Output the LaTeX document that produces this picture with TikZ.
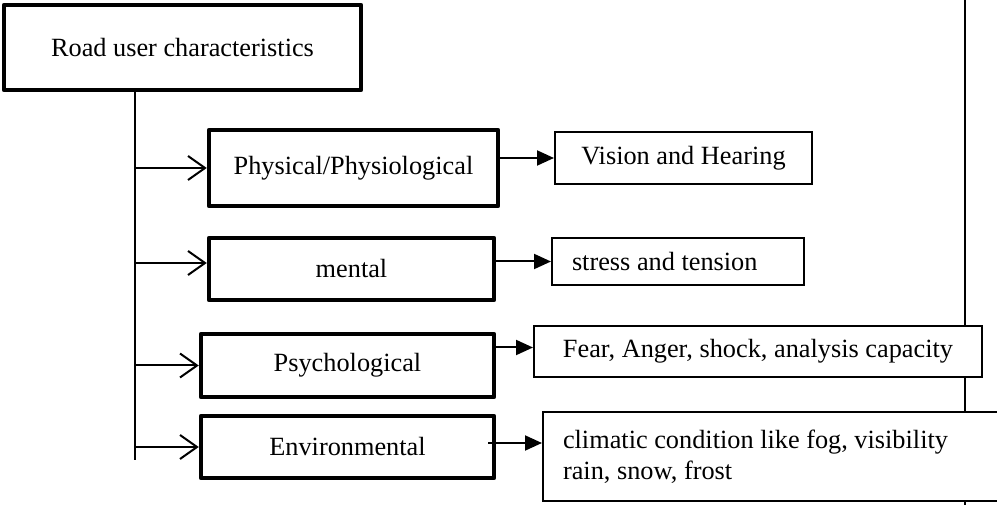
\documentclass[tikz,border=0pt]{standalone}
\usepackage{fontspec}
\setmainfont{Liberation Serif}
\usetikzlibrary{arrows.meta,positioning}
\tikzset{
	every node/.style={
		font=\fontsize{26.3}{31}\selectfont
	},
	heavybox/.style={
		draw,
		line width=4.5pt,
		line join=round,
		fill=white,
		inner sep=0pt
	},
	lightbox/.style={
		draw,
		line width=2pt,
		fill=white,
		inner sep=0pt
	},
	branch/.style={
		draw,
		line width=2pt,
		-{Straight Barb[length=17pt,width=24pt,line width=2pt]}
	},
	detail/.style={
		draw,
		line width=2pt,
		-{Triangle[length=17pt,width=15pt]}
	}
}

\begin{document}
\begin{tikzpicture}[x=1pt,y=-1pt]
	\useasboundingbox (0,0) rectangle (997,505);
	% rule on the right, behind the boxes
	\draw[line width=2pt] (965,0) -- (965,505);

	\node[heavybox, minimum width=357pt, minimum height=85pt] (root) at (182.5,47.5) {Road user characteristics};

	\node[heavybox, minimum width=289pt, minimum height=76pt] (phys) at (353.5,168) {Physical/Physiological};
	\node[heavybox, minimum width=285pt, minimum height=62pt] (mental) at (351.5,269) {mental};
	\node[heavybox, minimum width=293pt, minimum height=63pt] (psych) at (347.5,365.5) {Psychological};
	\node[heavybox, minimum width=293pt, minimum height=62pt] (env) at (347.5,447) {Environmental};

	\node[lightbox, minimum width=257pt, minimum height=52pt] (vision) at (683.5,158) {Vision and Hearing};
	\node[lightbox, text width=212pt, inner xsep=20pt, align=flush left, minimum height=47pt] (stress) at (678,261.5) {stress and tension};
	\node[lightbox, minimum width=448pt, minimum height=51pt] (fear) at (758,351.5) {Fear, Anger, shock, analysis capacity};
	\node[lightbox, text width=440pt, inner xsep=20pt, align=flush left, minimum height=89pt] (clim) at (783,456.5) {climatic condition like fog, visibility\\ rain, snow, frost};

	\coordinate (spine) at (135,460);
	\coordinate (envout) at (488,443);
	\draw[line width=2pt] (root.south -| spine) -- (spine);

	\draw (phys.west -| spine) edge[branch] (phys.west)
		([yshift=6pt]mental.west -| spine) edge[branch] ([yshift=6pt]mental.west)
		(psych.west -| spine) edge[branch] (psych.west)
		(env.west -| spine) edge[branch] (env.west);

	\draw (vision.west -| phys.east) edge[detail] (vision.west)
		(stress.west -| mental.east) edge[detail] (stress.west)
		([yshift=4pt]fear.west -| psych.east) edge[detail] ([yshift=4pt]fear.west)
		(envout) edge[detail] (envout -| clim.west);
\end{tikzpicture}
\end{document}
